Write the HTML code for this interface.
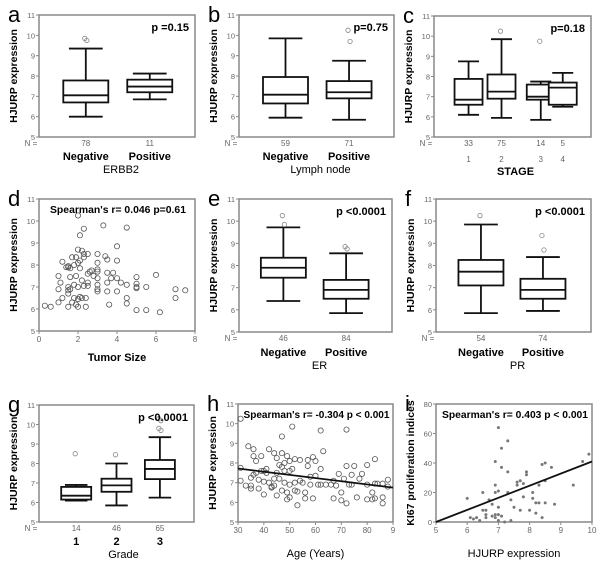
<!DOCTYPE html>
<html><head><meta charset="utf-8"><style>
body{margin:0;background:#fff;}
svg{display:block;font-family:"Liberation Sans",sans-serif;}
</style></head><body>
<svg id="fig" width="600" height="562" viewBox="0 0 600 562"></svg>
<script>
// ---- data ----
const aCats=["Negative","Positive"], aN=["78","11"];
const aStats=[[6.0,6.7,7.05,7.78,9.35],[6.85,7.2,7.48,7.82,8.12]];
const aOut=[[9.85,9.75],[]];
const bCats=["Negative","Positive"], bN=["59","71"];
const bStats=[[5.95,6.65,7.08,7.95,9.85],[5.85,6.9,7.2,7.75,8.75]];
const bOut=[[],[10.25,9.7]];
const cCats=["1","2","3","4"], cN=["33","75","14","5"];
const cStats=[[6.1,6.6,6.85,7.88,8.75],[5.95,6.9,7.25,8.1,9.85],[5.85,6.85,7.0,7.6,7.75],[6.5,6.6,7.45,7.7,8.18]];
const cOut=[[],[10.25],[9.75],[]];
const eCats=["Negative","Positive"], eN=["46","84"];
const eStats=[[6.4,7.45,7.9,8.35,9.72],[5.85,6.5,6.9,7.35,8.55]];
const eOut=[[10.25,9.85],[8.85,8.75]];
const fCats=["Negative","Positive"], fN=["54","74"];
const fStats=[[5.85,7.1,7.72,8.25,9.85],[5.95,6.5,6.9,7.4,8.38]];
const fOut=[[10.25],[9.35,8.7]];
const gCats=["1","2","3"], gN=["14","46","65"];
const gStats=[[6.1,6.15,6.35,6.8,6.9],[5.85,6.55,6.88,7.22,8.0],[6.25,7.2,7.72,8.18,9.35]];
const gOut=[[8.5],[8.45],[10.3,10.2,9.8,9.7]];
const yTicks=[5,6,7,8,9,10,11];
const dX=[0.3,0.6,1,1,1,1.1,1.2,1.2,1.4,1.5,1.5,1.5,1.5,1.5,1.5,1.6,1.6,1.6,1.7,1.7,1.8,1.8,1.8,1.9,1.9,1.9,2,2,2,2,2,2,2.1,2.1,2.1,2.1,2.2,2.2,2.2,2.3,2.3,2.3,2.3,2.4,2.4,2.5,2.5,2.5,2.5,2.6,2.7,2.8,3,3,3,3,3,3,3,3,3.3,3.4,3.5,3.5,3.5,3.5,3.6,3.7,3.8,4,4,4,4,4.2,4.5,4.5,4.5,4.5,5,5,5,5,5,5.5,5.5,6,6.2,7,7,7.5];
const dY=[6.15,6.1,6.3,6.9,7.5,7.2,8.15,6.5,7.9,7.95,7.9,7.0,6.85,6.7,6.1,7.45,6.9,7.85,8.35,6.3,8.0,7.1,6.5,8.35,7.5,6.2,8.7,8.1,7.0,6.45,6.1,10.25,9.35,7.85,8.2,6.55,8.65,6.5,7.3,9.65,8.5,8.35,7.05,6.5,6.1,8.5,7.6,7.2,7.05,7.7,7.75,7.5,8.5,8.1,7.8,7.7,7.4,7.1,6.9,6.8,9.8,8.4,8.25,7.65,7.2,6.8,6.2,7.4,7.65,8.85,8.2,7.4,6.8,7.2,9.7,7.1,6.5,6.25,7.45,7.15,7.0,6.95,5.95,7.0,5.95,7.55,5.85,6.9,6.5,6.85];
const dXTicks=[0,2,4,6,8];
const hX=[31,31,31,33,34,35,35,35,36,36,36,37,37,38,38,39,39,40,40,40,41,41,42,42,43,43,44,44,44,45,45,45,46,46,47,47,47,47,48,48,48,49,49,49,50,50,50,50,51,51,52,52,52,53,53,54,54,55,56,56,57,57,58,58,59,59,60,60,61,62,62,62,63,64,66,67,67,68,69,70,70,71,72,72,72,73,74,74,75,76,77,78,80,80,80,82,82,83,83,83,84,86,86,86,88,88];
const hY=[10.25,7.75,7.1,6.85,8.85,6.7,6.85,7.25,8.7,8.35,7.4,7.5,8.1,7.15,6.7,8.35,7.6,7.05,7.6,6.4,7.7,7.5,8.7,7.0,6.8,6.75,8.5,7.2,6.85,8.25,6.35,7.5,7.9,7.2,9.35,8.5,7.8,6.6,7.0,7.6,8.0,8.35,6.15,6.5,8.1,7.6,6.9,6.25,9.85,7.7,8.2,6.6,7.0,5.85,6.55,8.15,7.1,7.0,6.2,6.5,8.15,7.85,6.9,7.3,6.2,8.3,8.1,7.35,6.9,9.65,6.9,7.7,8.6,6.9,6.9,7.1,6.2,6.85,7.45,6.5,6.1,7.2,9.7,7.85,5.95,6.9,7.4,6.9,7.85,6.25,7.2,7.45,7.9,6.15,6.9,6.5,6.15,8.2,6.95,6.2,6.95,6.95,6.25,5.95,7.15,6.8];
const hFit=[7.72,6.75];
const hXTicks=[30,40,50,60,70,80,90];
const hXLabels=["30","40","50","60","70","80","9"];
const iX=[6,6.1,6.2,6.3,6.5,6.5,6.6,6.6,6.7,6.8,6.9,6.9,6.9,6.9,7,7,7,7,7,7.1,7.1,7.2,7.3,7.3,7.3,7.4,7.5,7.6,7.6,7.7,7.7,7.8,7.8,7.9,7.9,8,8.1,8.1,8.2,8.2,8.3,8.3,8.4,8.4,8.5,8.5,8.5,8.7,8.8,9.4,9.7,9.9,6.9,7.1,6.6,7.4,6.4,6.8];
const iY=[16,3,2,3,8,20,5,3,15,12,41,25,20,5,64,10,21,5,1,50,37,0,55,34,20,15,10,25,27,28,8,26,17,32,34,8,20,16,13,6,25,13,39,3,40,28,13,37,12,25,41,46,3,4,8,1,1,4];
const iFit=[0,41];
const iXTicks=[5,6,7,8,9,10];
const iYTicks=[0,20,40,60,80];

// ---- drawing ----
const NS="http://www.w3.org/2000/svg", svg=document.getElementById('fig');
function mk(tag,attrs,parent){const e=document.createElementNS(NS,tag);for(const k in attrs)e.setAttribute(k,attrs[k]);(parent||svg).appendChild(e);return e;}
function txt(s,x,y,o,parent){const t=mk('text',Object.assign({x:x,y:y,'font-size':8,fill:'#666','text-anchor':'middle'},o||{}),parent);t.textContent=s;return t;}

function frame(name,letter,L,R,T,B,ymin,ymax,ticks,tickLabels){
  const g=mk('g',{});
  
  
  const lt=txt(letter,L-31,T+7,{'font-size':22,fill:'#000','text-anchor':'start'},g);
  
  
  const r=mk('rect',{x:L,y:T,width:R-L,height:B-T,fill:'none',stroke:'#888','stroke-width':1.5},g);
  
  
  const ys=v=>B-(v-ymin)/(ymax-ymin)*(B-T);
  ticks.forEach((v,i)=>{
    mk('line',{x1:L-3,x2:L,y1:ys(v),y2:ys(v),stroke:'#888'},g);
    const t=txt(tickLabels?tickLabels[i]:String(v),L-4,ys(v)+3,{'text-anchor':'end','font-size':7.5},g);
    
    
  });
  return {g,ys};
}
function yTitle(g,s,x,y){const t=txt(s,x,y,{'font-size':10.5,'font-weight':'bold',fill:'#000',transform:`rotate(-90 ${x} ${y})`},g);
  
  }

function boxPanel(o){
  const {L,R,T,B}=o;
  const f=frame(o.name,o.letter,L,R,T,B,5,11,yTicks);
  const g=f.g, ys=f.ys;
  yTitle(g,'HJURP expression',L-22,(T+B)/2);
  txt('N =',L-8,B+9,{},g);
  o.stats.forEach((s,i)=>{
    const cx=L+o.pos[i]*(R-L), w=o.bw/2;
    const bg=mk('g',{stroke:'#111','stroke-width':1.8,fill:'none'},g);
    
    
    mk('line',{x1:cx,x2:cx,y1:ys(s[0]),y2:ys(s[1])},bg);
    mk('line',{x1:cx,x2:cx,y1:ys(s[3]),y2:ys(s[4])},bg);
    mk('line',{x1:cx-w*0.75,x2:cx+w*0.75,y1:ys(s[0]),y2:ys(s[0])},bg);
    mk('line',{x1:cx-w*0.75,x2:cx+w*0.75,y1:ys(s[4]),y2:ys(s[4])},bg);
    mk('rect',{x:cx-w,y:ys(s[3]),width:2*w,height:ys(s[1])-ys(s[3]),fill:'#fff'},bg);
    mk('line',{x1:cx-w,x2:cx+w,y1:ys(s[2]),y2:ys(s[2])},bg);
    o.out[i].forEach((v,k)=>{
      const c=mk('circle',{cx:cx-1+(k%2)*2,cy:ys(v),r:2.2,fill:'none',stroke:'#888','stroke-width':0.8},g);
      
      
    });
    txt(o.n[i],cx,B+9,{},g);
    const cl=txt(o.cats[i],cx,o.catY,o.catStyle,g);
    
    
  });
  const p=txt(o.p,R-6,T+16,{'font-size':11,'font-weight':'bold',fill:'#000','text-anchor':'end'},g);
  
  
  const xt=txt(o.xTitle,(L+R)/2-(o.xShift||0),o.titleY,{'font-size':11,fill:'#000','font-weight':o.titleBold?'bold':'normal'},g);
  
  
}
const bigCat={'font-size':11,'font-weight':'bold',fill:'#000'};
boxPanel({name:'panel-a-erbb2',letter:'a',L:39,R:195,T:15,B:137,stats:aStats,out:aOut,cats:aCats,n:aN,pos:[0.3,0.71],bw:45,p:'p =0.15',catY:160,catStyle:bigCat,xTitle:'ERBB2',titleY:173,xShift:-4});
boxPanel({name:'panel-b-lymph-node',letter:'b',L:239,R:394,T:15,B:137,stats:bStats,out:bOut,cats:bCats,n:bN,pos:[0.3,0.71],bw:45,p:'p=0.75',catY:160,catStyle:bigCat,xTitle:'Lymph node',titleY:173,xShift:-4});
boxPanel({name:'panel-c-stage',letter:'c',L:434,R:591,T:16,B:137,stats:cStats,out:cOut,cats:cCats,n:cN,pos:[0.22,0.43,0.68,0.82],bw:28,p:'p=0.18',catY:162,catStyle:{'font-size':8,fill:'#666'},xTitle:'STAGE',titleY:175,titleBold:true,xShift:-3});
boxPanel({name:'panel-e-er',letter:'e',L:239,R:392,T:199,B:332,stats:eStats,out:eOut,cats:eCats,n:eN,pos:[0.29,0.7],bw:45,p:'p <0.0001',catY:356,catStyle:bigCat,xTitle:'ER',titleY:369,xShift:-4});
boxPanel({name:'panel-f-pr',letter:'f',L:436,R:591,T:199,B:332,stats:fStats,out:fOut,cats:fCats,n:fN,pos:[0.29,0.69],bw:45,p:'p <0.0001',catY:356,catStyle:bigCat,xTitle:'PR',titleY:369,xShift:-4});
boxPanel({name:'panel-g-grade',letter:'g',L:39,R:194,T:405,B:522,stats:gStats,out:gOut,cats:gCats,n:gN,pos:[0.24,0.5,0.78],bw:30,p:'p <0.0001',catY:545,catStyle:bigCat,xTitle:'Grade',titleY:558,xShift:-7});

function scatterPanel(o){
  const {L,R,T,B}=o;
  const f=frame(o.name,o.letter,L,R,T,B,o.ymin,o.ymax,o.yTicks);
  const g=f.g, ys=f.ys;
  const xs=v=>L+(v-o.xmin)/(o.xmax-o.xmin)*(R-L);
  yTitle(g,o.yTitle,L-22,(T+B)/2);
  o.xTicks.forEach((v,i)=>{
    mk('line',{x1:xs(v),x2:xs(v),y1:B,y2:B+3,stroke:'#888'},g);
    const t=txt(o.xLabels?o.xLabels[i]:String(v),xs(v),B+11,{},g);
    
    
  });
  o.X.forEach((x,i)=>{
    const c=mk('circle',o.filled?{cx:xs(x),cy:ys(o.Y[i]),r:1.5,fill:'#777'}:{cx:xs(x),cy:ys(o.Y[i]),r:2.6,fill:'none',stroke:'#555','stroke-width':0.8},g);
    
    
  });
  if(o.fit){const l=mk('line',{x1:xs(o.xmin),x2:xs(o.xmax),y1:ys(o.fit[0]),y2:ys(o.fit[1]),stroke:'#111','stroke-width':1.8},g);
    
    }
  const st=txt(o.stat,(L+R)/2+1,T+14,{'font-size':10.5,'font-weight':'bold',fill:'#000',textLength:o.statW,lengthAdjust:'spacingAndGlyphs'},g);
  
  
  const xt=txt(o.xTitle,(L+R)/2,o.titleY,{'font-size':11,fill:'#000','font-weight':o.titleBold?'bold':'normal'},g);
  
  
}
scatterPanel({name:'panel-d-tumor-size',letter:'d',L:39,R:195,T:199,B:331,xmin:0,xmax:8,ymin:5,ymax:11,yTicks:yTicks,xTicks:dXTicks,X:dX,Y:dY,yTitle:'HJURP expression',stat:"Spearman's r= 0.046     p=0.61",statW:136,xTitle:'Tumor Size',titleY:361,titleBold:true});
scatterPanel({name:'panel-h-age',letter:'h',L:238,R:393,T:404,B:522,xmin:30,xmax:90,ymin:5,ymax:11,yTicks:yTicks,xTicks:hXTicks,xLabels:hXLabels,X:hX,Y:hY,fit:hFit,yTitle:'HJURP expression',stat:"Spearman's r= -0.304   p < 0.001",statW:146,xTitle:'Age (Years)',titleY:557});
scatterPanel({name:'panel-i-ki67',letter:'i',L:436,R:592,T:404,B:522,xmin:5,xmax:10,ymin:0,ymax:80,yTicks:iYTicks,xTicks:iXTicks,X:iX,Y:iY,fit:iFit,filled:true,yTitle:'KI67 proliferation indices',stat:"Spearman's r= 0.403   p < 0.001",statW:146,xTitle:'HJURP expression',titleY:557});
</script>
</body></html>
